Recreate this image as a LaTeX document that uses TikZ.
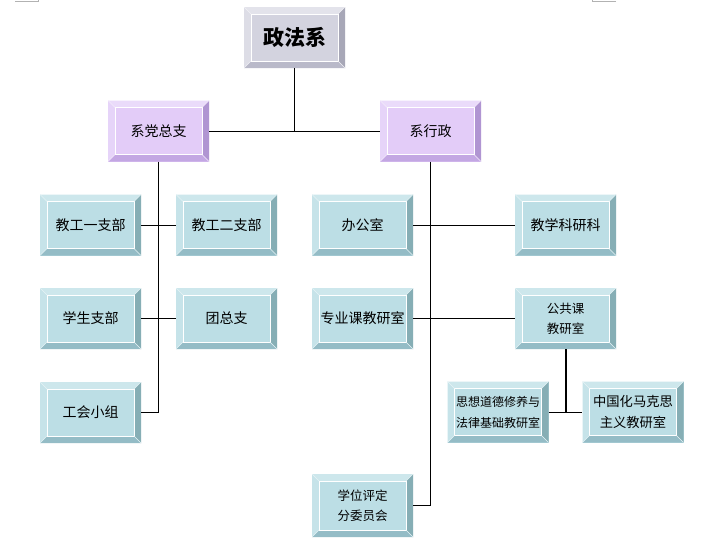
\documentclass[tikz,border=0pt]{standalone}
\usepackage{fontspec}
\newfontfamily\cjk{Noto Sans CJK SC}
\usepackage{tikz}

% face / top / left / right / bottom of the bevel boxes
\definecolor{cyF}{HTML}{BCDEE5}
\definecolor{cyT}{HTML}{CDE7EC}
\definecolor{cyL}{HTML}{C6E3E9}
\definecolor{cyR}{HTML}{86AEB5}
\definecolor{cyB}{HTML}{94BCC6}
\definecolor{puF}{HTML}{E3CCF8}
\definecolor{puT}{HTML}{EADBFA}
\definecolor{puL}{HTML}{E6D4F9}
\definecolor{puR}{HTML}{B095D2}
\definecolor{puB}{HTML}{C3A7E3}
\definecolor{grF}{HTML}{D3D3DF}
\definecolor{grT}{HTML}{E3E3EB}
\definecolor{grL}{HTML}{DDDDE6}
\definecolor{grR}{HTML}{A7A7B7}
\definecolor{grB}{HTML}{B9B9C9}

\def\bw{7pt}
\tikzset{
  bevel/.style={minimum width=101pt, minimum height=61pt, inner sep=0pt,
    align=center, fill=#1F, font=\cjk\fontsize{14}{19}\selectfont,
    path picture={
      \path (path picture bounding box.south west) coordinate (sw)
            (path picture bounding box.north east) coordinate (ne)
            (path picture bounding box.north west) coordinate (nw)
            (path picture bounding box.south east) coordinate (se);
      \fill[#1T] (nw) -- (ne) -- ([shift={(-\bw,-\bw)}]ne) -- ([shift={(\bw,-\bw)}]nw) -- cycle;
      \fill[#1L] (nw) -- ([shift={(\bw,-\bw)}]nw) -- ([shift={(\bw,\bw)}]sw) -- (sw) -- cycle;
      \fill[#1R] (ne) -- (se) -- ([shift={(-\bw,\bw)}]se) -- ([shift={(-\bw,-\bw)}]ne) -- cycle;
      \fill[#1B] (sw) -- ([shift={(\bw,\bw)}]sw) -- ([shift={(-\bw,\bw)}]se) -- (se) -- cycle;
      \draw[white, line width=0.7pt] ([shift={(\bw,-\bw)}]nw) rectangle ([shift={(-\bw,\bw)}]se);
      \draw[white!50!#1T, line width=0.5pt] (nw) -- ([shift={(\bw,-\bw)}]nw)
        (ne) -- ([shift={(-\bw,-\bw)}]ne) (sw) -- ([shift={(\bw,\bw)}]sw)
        (se) -- ([shift={(-\bw,\bw)}]se);
    }},
  small/.style={font=\cjk\fontsize{12.5}{20}\selectfont},
  link/.style={line width=0.8pt},
}

\begin{document}
\begin{tikzpicture}[x=1pt, y=-1pt]
  \useasboundingbox[fill=white] (0,0) rectangle (707,542);
  \draw[gray!60, line width=0.8pt] (15,1) -- (38,1) -- (38,0);
  \draw[gray!60, line width=0.8pt] (616,1) -- (592,1) -- (592,0);

  % top levels
  \node[bevel=gr, font=\cjk\bfseries\fontsize{21}{24}\selectfont] (zfx) at (294.5,37.5) {政法系};
  \node[bevel=pu] (dzz) at (158.5,131) {系党总支};
  \node[bevel=pu] (xxz) at (430.5,131) {系行政};

  % party side
  \node[bevel=cy] (jg1) at (90.5,225) {教工一支部};
  \node[bevel=cy] (jg2) at (226.5,225) {教工二支部};
  \node[bevel=cy] (xsz) at (90.5,318.5) {学生支部};
  \node[bevel=cy] (tzz) at (226.5,318.5) {团总支};
  \node[bevel=cy] (ghx) at (90.5,412.5) {工会小组};

  % administration side
  \node[bevel=cy] (bgs) at (362.5,225) {办公室};
  \node[bevel=cy] (jxk) at (565.5,225) {教学科研科};
  \node[bevel=cy] (zyk) at (362.5,318.5) {专业课教研室};
  \node[bevel=cy, small] (ggk) at (565.5,318.5) {公共课\\教研室};
  \node[bevel=cy, font=\cjk\fontsize{12}{21}\selectfont] (sxd) at (498,412) {思想道德修养与\\法律基础教研室};
  \node[bevel=cy, font=\cjk\fontsize{13.3}{21}\selectfont] (zgh) at (633,412) {中国化马克思\\主义教研室};
  \node[bevel=cy, small, minimum height=63pt] (xwp) at (362.5,505.5) {学位评定\\分委员会};

  % connectors
  \draw[link] (zfx.south) -- (zfx.south |- dzz.east);
  \draw[link] (dzz.east) -- (xxz.west);
  \draw[link] (dzz.south) |- (ghx.east);
  \draw[link] (jg1.east) -- (jg2.west);
  \draw[link] (xsz.east) -- (tzz.west);
  \draw[link] (xxz.south) |- (xwp.east);
  \draw[link] (bgs.east) -- (jxk.west);
  \draw[link] (zyk.east) -- (ggk.west);
  \draw[line width=2pt] (ggk.south) -- (ggk.south |- sxd.east);
  \draw[link] (sxd.east) -- (zgh.west);
\end{tikzpicture}
\end{document}
